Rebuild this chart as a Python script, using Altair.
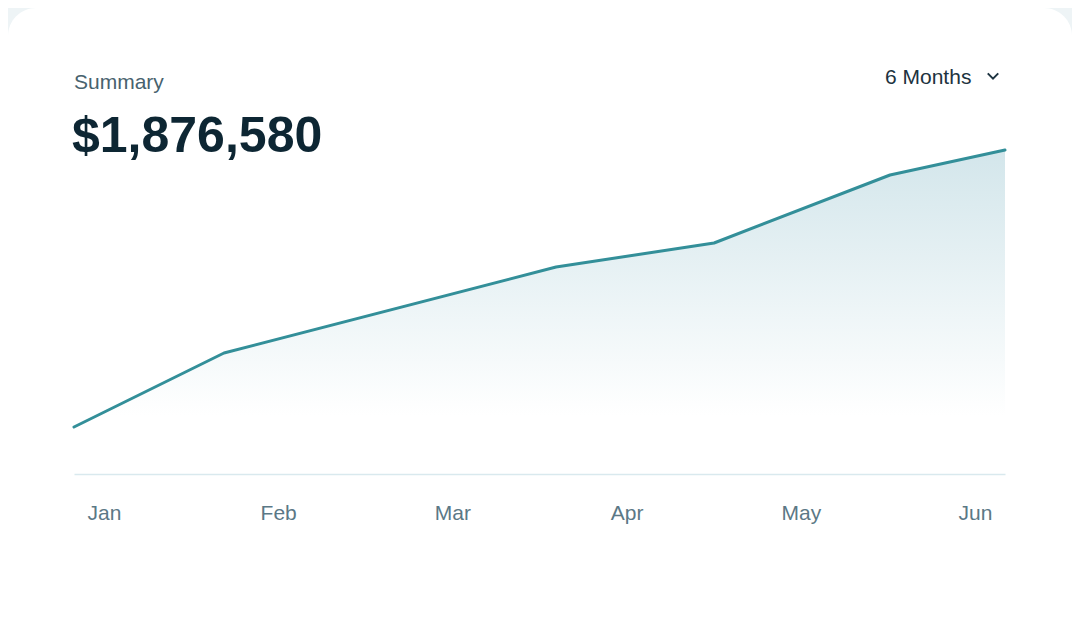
import altair as alt
import pandas as pd

# ---- data ----
months = ["Jan", "Feb", "Mar", "Apr", "May", "Jun"]
x_month = [-0.172, 0.689, 2.595, 3.502, 4.512, 5.172]   # position in month units
values = [272200, 700800, 1198900, 1337900, 1731800, 1876580]
header_label = ["Summary"]
header_total = ["$1,876,580"]
period_label = ["6 Months"]

df = pd.DataFrame({"x": x_month, "v": values})

W, H = 931, 324
x_scale = alt.Scale(domain=[-0.172, 5.172], nice=False, zero=False)
y_scale = alt.Scale(domain=[0, 1876580], nice=False, zero=True)

label_arr = "[" + ",".join(f"'{m}'" for m in months) + "]"

base = alt.Chart(df)

card = alt.Chart(pd.DataFrame({"a": [0]})).mark_rect(
    color="white", cornerRadius=28
).encode(
    x=alt.value(-66), x2=alt.value(W + 67),
    y=alt.value(-142), y2=alt.value(H + 260),
)

area = base.mark_area(
    fill=alt.Gradient(
        gradient="linear",
        stops=[
            alt.GradientStop(color="#d3e6eb", offset=0),
            alt.GradientStop(color="#ffffff", offset=0.82),
        ],
        x1=1, x2=1, y1=0, y2=1,
    ),
    interpolate="linear",
).encode(
    x=alt.X("x:Q", scale=x_scale,
            axis=alt.Axis(values=[0, 1, 2, 3, 4, 5],
                          labelExpr=f"{label_arr}[datum.value]",
                          title=None, zindex=1)),
    y=alt.Y("v:Q", scale=y_scale, axis=None),
)

line = base.mark_line(
    color="#338f99", strokeWidth=3, strokeCap="round", strokeJoin="round"
).encode(
    x=alt.X("x:Q", scale=x_scale),
    y=alt.Y("v:Q", scale=y_scale),
)

t1 = alt.Chart(pd.DataFrame({"t": header_label})).mark_text(
    align="left", baseline="alphabetic", fontSize=21, font="Liberation Sans",
    color="#48626e"
).encode(text="t:N", x=alt.value(0), y=alt.value(-61))

t2 = alt.Chart(pd.DataFrame({"t": header_total})).mark_text(
    align="left", baseline="alphabetic", fontSize=50, fontWeight="bold",
    font="Liberation Sans", color="#0d2633"
).encode(text="t:N", x=alt.value(-2), y=alt.value(2))

t3 = alt.Chart(pd.DataFrame({"t": period_label})).mark_text(
    align="left", baseline="alphabetic", fontSize=21, font="Liberation Sans",
    color="#1d3340"
).encode(text="t:N", x=alt.value(811), y=alt.value(-66))

chev = alt.Chart(pd.DataFrame({"a": [0]})).mark_point(
    shape="M-1,-0.5L0,0.5L1,-0.5", filled=False, color="#1d3340",
    strokeWidth=2, size=110, opacity=1
).encode(x=alt.value(919), y=alt.value(-74))

chart = alt.layer(card, area, line, t1, t2, t3, chev).properties(
    width=W, height=H,
    padding={"left": 66, "top": 142, "right": 67, "bottom": 136},
    autosize=alt.AutoSizeParams(type="none"),
    background="#eef4f6",
).configure_view(stroke=None).configure_axis(
    domainColor="#d9e9ee", domainWidth=1.5, ticks=False, grid=False,
    labelFont="Liberation Sans", labelFontSize=21, labelColor="#5b7886",
    labelPadding=28, labelBaseline="top",
)

chart.save("out.html", embed_options={"renderer": "svg", "actions": False})
